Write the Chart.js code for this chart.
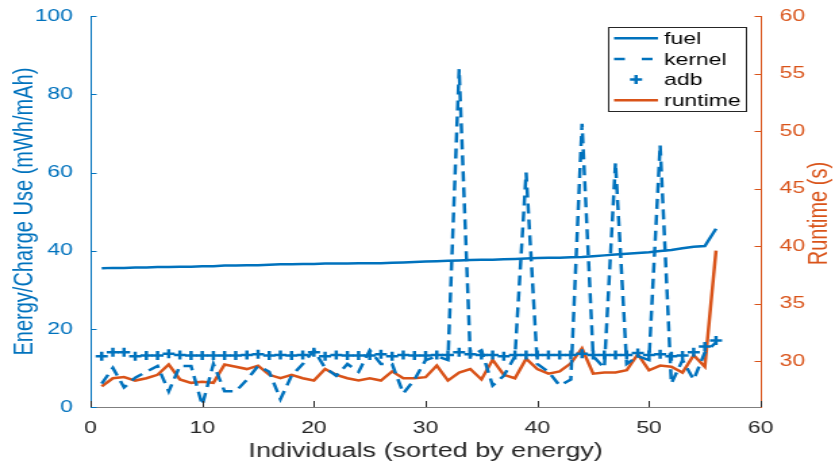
<!DOCTYPE html>
<html>
<head>
<meta charset="utf-8">
<title>Energy and runtime per individual</title>
<script src="https://cdn.jsdelivr.net/npm/chart.js@4.4.1/dist/chart.umd.min.js"></script>
<style>
  html, body { margin: 0; padding: 0; background: #fff; overflow: hidden; }
  /* the figure is laid out narrow and then stretched sideways */
  #wrap { width: 618px; height: 466px; transform: scaleX(1.3511); transform-origin: 0 0; }
</style>
</head>
<body>
<div id="wrap"><canvas id="energy"></canvas></div>
<script>
const individuals = [
  1, 2, 3, 4, 5, 6, 7, 8, 9, 10, 11, 12, 13, 14, 15, 16, 17, 18, 19, 20,
  21, 22, 23, 24, 25, 26, 27, 28, 29, 30, 31, 32, 33, 34, 35, 36, 37, 38, 39, 40,
  41, 42, 43, 44, 45, 46, 47, 48, 49, 50, 51, 52, 53, 54, 55, 56,
];

// mWh per individual, sorted
const fuel = [
  35.5, 35.6, 35.6, 35.7, 35.7, 35.8, 35.8, 35.9, 35.9, 36.0,
  36.0, 36.2, 36.2, 36.3, 36.3, 36.4, 36.5, 36.5, 36.6, 36.6,
  36.7, 36.7, 36.7, 36.8, 36.8, 36.8, 36.9, 37.0, 37.1, 37.2,
  37.3, 37.4, 37.5, 37.6, 37.7, 37.7, 37.8, 37.9, 38.0, 38.1,
  38.2, 38.2, 38.3, 38.4, 38.6, 38.8, 39.0, 39.2, 39.4, 39.6,
  39.9, 40.2, 40.6, 41.0, 41.2, 45.6,
];

const kernel = [
  6, 10, 5, 7.5, 9, 10.5, 4, 10.5, 10.5, 0.5,
  11, 4, 4, 7, 10.5, 9, 2, 8, 11, 14.5,
  10, 8, 11, 9, 14.5, 11, 11, 3.5, 7, 12,
  13, 12, 86.5, 13, 14.5, 5.5, 8, 13, 60, 11,
  9, 5.5, 7, 72.5, 13, 10, 62.5, 11, 13, 12,
  67, 6, 12, 7, 14, 16.5,
];

const adb = [
  13.0, 14.0, 14.0, 13.0, 13.2, 13.2, 13.6, 13.3, 13.2, 13.2,
  13.2, 13.2, 13.2, 13.3, 13.5, 13.2, 13.3, 13.2, 13.3, 14.0,
  13.0, 13.3, 13.2, 13.2, 13.2, 13.5, 13.0, 13.3, 13.2, 13.2,
  13.3, 13.3, 14.0, 13.5, 13.3, 13.3, 13.0, 13.3, 13.3, 13.3,
  13.3, 13.3, 13.3, 13.6, 13.3, 13.3, 13.3, 13.3, 13.8, 13.3,
  13.5, 13.0, 13.2, 14.0, 15.5, 17.0,
];

// seconds
const runtime = [
  27.8, 28.5, 28.6, 28.3, 28.5, 28.8, 29.7, 28.4, 28.1, 28.2,
  28.1, 29.7, 29.5, 29.3, 29.6, 28.8, 28.5, 28.8, 28.5, 28.3,
  29.3, 28.8, 28.5, 28.3, 28.5, 28.3, 29.1, 28.5, 28.5, 28.6,
  29.6, 28.3, 29.0, 29.3, 28.4, 30.1, 28.8, 28.5, 30.2, 29.3,
  28.9, 29.1, 29.8, 31.1, 28.9, 29.0, 29.0, 29.2, 30.6, 29.2,
  29.6, 29.5, 29.0, 30.5, 29.5, 39.6,
];

const individualTicks = [0, 10, 20, 30, 40, 50, 60];
const energyTicks = [0, 20, 40, 60, 80, 100];
const runtimeTicks = [30, 35, 40, 45, 50, 55, 60];

const BLUE = "#0072BD";
const ORANGE = "#D95319";
const DARK = "#262626";
const FONT = "'Liberation Sans', Arial, Helvetica, sans-serif";

const toPoints = (ys) => ys.map((y, i) => ({ x: individuals[i], y }));
const fixTicks = (list) => (scale) => {
  scale.ticks = list.map((v) => ({ value: v }));
};

// MATLAB-style tick marks pointing into the plot
const innerTicks = {
  id: "innerTicks",
  afterDatasetsDraw(chart) {
    const { ctx, chartArea: a, scales } = chart;
    const len = 4.5;
    ctx.save();
    ctx.lineWidth = 1;
    const mark = (color, x1, y1, x2, y2) => {
      ctx.strokeStyle = color;
      ctx.beginPath();
      ctx.moveTo(x1, y1);
      ctx.lineTo(x2, y2);
      ctx.stroke();
    };
    scales.x.ticks.forEach((t) => {
      const x = Math.round(scales.x.getPixelForValue(t.value)) + 0.5;
      mark(DARK, x, a.bottom, x, a.bottom - 6);
    });
    scales.y.ticks.forEach((t) => {
      const y = Math.round(scales.y.getPixelForValue(t.value)) + 0.5;
      mark(BLUE, a.left, y, a.left + len, y);
    });
    scales.y1.ticks.forEach((t) => {
      const y = Math.round(scales.y1.getPixelForValue(t.value)) + 0.5;
      mark(ORANGE, a.right, y, a.right - len, y);
    });
    ctx.restore();
  },
};

// right-hand axis title, reading bottom to top like the left one
const runtimeTitle = {
  id: "runtimeTitle",
  afterDraw(chart) {
    const { ctx, chartArea: a } = chart;
    ctx.save();
    ctx.translate(a.right + 43, (a.top + a.bottom) / 2 + 2);
    ctx.rotate(-Math.PI / 2);
    ctx.font = "20px " + FONT;
    ctx.fillStyle = ORANGE;
    ctx.textAlign = "center";
    ctx.textBaseline = "middle";
    ctx.fillText("Runtime (s)", 0, 0);
    ctx.restore();
  },
};

// boxed legend in the top right corner
const boxLegend = {
  id: "boxLegend",
  afterDraw(chart) {
    const { ctx, chartArea: a } = chart;
    const right = a.right - 11.5;
    const top = a.top + 11;
    const w = 101.5;
    const h = 84;
    const left = right - w;
    ctx.save();
    ctx.fillStyle = "#fff";
    ctx.fillRect(left, top, w, h);
    ctx.strokeStyle = DARK;
    ctx.lineWidth = 1;
    ctx.strokeRect(Math.round(left) + 0.5, Math.round(top) + 0.5, Math.round(w), Math.round(h));

    const x1 = left + 4.5;
    const x2 = left + 37;
    ctx.font = "17px " + FONT;
    ctx.textBaseline = "middle";
    chart.data.datasets.forEach((ds, i) => {
      const y = top + 11 + i * 20.7;
      ctx.strokeStyle = ds.borderColor;
      ctx.lineWidth = ds.borderWidth;
      if (ds.showLine === false) {
        const cx = (x1 + x2) / 2;
        const r = ds.pointRadius;
        ctx.beginPath();
        ctx.moveTo(cx - r, y);
        ctx.lineTo(cx + r, y);
        ctx.moveTo(cx, y - r);
        ctx.lineTo(cx, y + r);
        ctx.stroke();
      } else {
        ctx.setLineDash(ds.borderDash ? [8, 12.5] : []);
        ctx.beginPath();
        ctx.moveTo(x1, y);
        ctx.lineTo(x2, y);
        ctx.stroke();
        ctx.setLineDash([]);
      }
      ctx.fillStyle = "#000";
      ctx.fillText(ds.label, x2 + 4.5, y + 1);
    });
    ctx.restore();
  },
};

new Chart(document.getElementById("energy"), {
  type: "line",
  data: {
    datasets: [
      {
        label: "fuel",
        data: toPoints(fuel),
        borderColor: BLUE,
        borderWidth: 2.5,
        pointRadius: 0,
        yAxisID: "y",
      },
      {
        label: "kernel",
        data: toPoints(kernel),
        borderColor: BLUE,
        borderWidth: 2.5,
        borderDash: [10, 6],
        pointRadius: 0,
        yAxisID: "y",
      },
      {
        label: "adb",
        data: toPoints(adb),
        borderColor: BLUE,
        backgroundColor: BLUE,
        borderWidth: 2.5,
        showLine: false,
        pointStyle: "cross",
        pointRadius: 4.5,
        yAxisID: "y",
      },
      {
        label: "runtime",
        data: toPoints(runtime),
        borderColor: ORANGE,
        borderWidth: 2.5,
        pointRadius: 0,
        yAxisID: "y1",
      },
    ],
  },
  options: {
    responsive: true,
    maintainAspectRatio: false,
    animation: false,
    layout: { padding: { top: 15, left: 0, right: 0, bottom: 0 } },
    plugins: { legend: { display: false }, tooltip: { enabled: false } },
    scales: {
      x: {
        type: "linear",
        min: 0,
        max: 60,
        afterBuildTicks: fixTicks(individualTicks),
        afterFit: (s) => { s.height = 59; },
        grid: { display: false },
        border: { color: "#7f7f7f", width: 1 },
        ticks: { color: DARK, padding: 3, maxRotation: 0, font: { family: FONT, size: 17 } },
        title: {
          display: true,
          text: "Individuals (sorted by energy)",
          color: DARK,
          font: { family: FONT, size: 20 },
          padding: { top: 0, bottom: 3 },
        },
      },
      y: {
        position: "left",
        min: 0,
        max: 100,
        afterBuildTicks: fixTicks(energyTicks),
        afterFit: (s) => { s.width = 67; },
        grid: { display: false },
        border: { color: BLUE, width: 1 },
        ticks: { color: BLUE, padding: 5, font: { family: FONT, size: 17 } },
        title: {
          display: true,
          text: "Energy/Charge Use (mWh/mAh)",
          color: BLUE,
          font: { family: FONT, size: 20 },
          padding: { top: 6, bottom: 0 },
        },
      },
      y1: {
        position: "right",
        min: 26,
        max: 60,
        afterBuildTicks: fixTicks(runtimeTicks),
        afterFit: (s) => { s.width = 55; },
        grid: { display: false },
        border: { color: ORANGE, width: 1 },
        ticks: { color: ORANGE, padding: 6, font: { family: FONT, size: 17 } },
      },
    },
  },
  plugins: [innerTicks, runtimeTitle, boxLegend],
});
</script>
</body>
</html>
